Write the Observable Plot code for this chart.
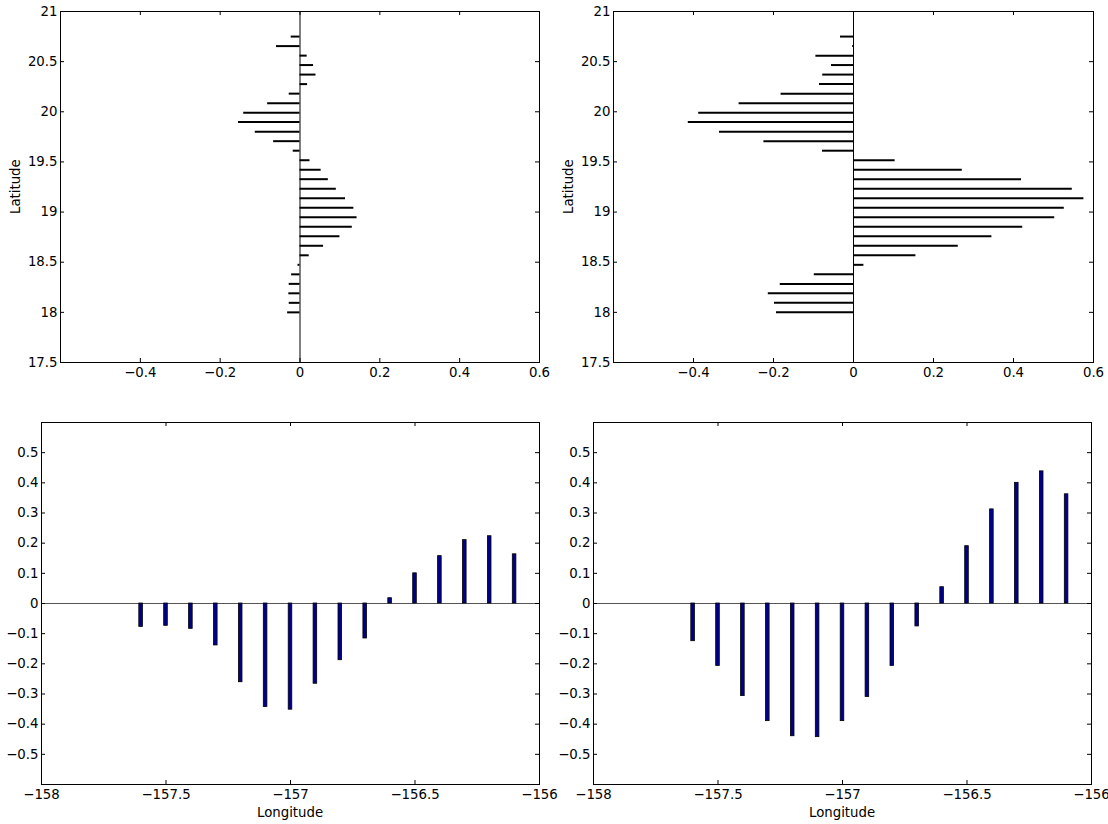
<!DOCTYPE html>
<html>
<head>
<meta charset="utf-8">
<script src="https://cdn.jsdelivr.net/npm/d3@7"></script>
<script src="https://cdn.jsdelivr.net/npm/@observablehq/plot@0.6"></script>
<style>
  html, body { margin: 0; padding: 0; background: #fff; }
  #wrap { position: relative; width: 1108px; height: 824px; font-family: "DejaVu Sans", sans-serif; font-size: 13.3px; color: #000; }
  #wrap svg { position: absolute; overflow: visible; }
  .lab { position: absolute; white-space: nowrap; font-size: 13.3px; line-height: 1; }
</style>
</head>
<body>
<div id="wrap"></div>
<script>
// ---- data ----
const latitudes = [18.0, 18.095, 18.19, 18.284, 18.379, 18.474, 18.569, 18.664, 18.759, 18.853,
  18.948, 19.043, 19.138, 19.233, 19.328, 19.422, 19.517, 19.612, 19.707, 19.802,
  19.897, 19.991, 20.086, 20.181, 20.276, 20.371, 20.466, 20.56, 20.655, 20.75];
const latValuesLeft = [-0.031, -0.027, -0.028, -0.027, -0.021, -0.005, 0.023, 0.059, 0.100, 0.131,
  0.143, 0.135, 0.114, 0.091, 0.071, 0.053, 0.025, -0.017, -0.066, -0.112,
  -0.154, -0.141, -0.081, -0.027, 0.019, 0.040, 0.034, 0.018, -0.059, -0.022];
const latValuesRight = [-0.1925, -0.1975, -0.213, -0.183, -0.098, 0.026, 0.156, 0.262, 0.346, 0.423,
  0.503, 0.527, 0.576, 0.547, 0.420, 0.272, 0.104, -0.0775, -0.224, -0.335,
  -0.413, -0.387, -0.286, -0.181, -0.085, -0.077, -0.055, -0.094, -0.002, -0.0325];

const longitudes = [-157.6, -157.5, -157.4, -157.3, -157.2, -157.1, -157.0, -156.9,
  -156.8, -156.7, -156.6, -156.5, -156.4, -156.3, -156.2, -156.1];
const lonValuesLeft = [-0.0775, -0.074, -0.084, -0.139, -0.261, -0.343, -0.352, -0.266,
  -0.188, -0.116, 0.0175, 0.100, 0.157, 0.210, 0.223, 0.163];
const lonValuesRight = [-0.125, -0.207, -0.307, -0.390, -0.440, -0.443, -0.390, -0.310,
  -0.207, -0.076, 0.054, 0.190, 0.312, 0.400, 0.438, 0.362];

const topXTicks = [-0.4, -0.2, 0, 0.2, 0.4, 0.6];
const topYTicks = [17.5, 18, 18.5, 19, 19.5, 20, 20.5, 21];
const botXTicks = [-158, -157.5, -157, -156.5, -156];
const botYTicks = [-0.5, -0.4, -0.3, -0.2, -0.1, 0, 0.1, 0.2, 0.3, 0.4, 0.5];

const yLabel = "Latitude";
const xLabel = "Longitude";

// ---- helpers ----
const fmt = d => {
  const a = String(+Math.abs(d).toFixed(3));
  return (d < 0 ? "\u2212" : "") + a;
};
const TICK = 4;
const FS = 13.3;

function panel({x, y, width, height, mL, mR, mT, mB, xDomain, yDomain, xTicks, yTicks, marks}) {
  const pw = width - mL - mR, ph = height - mT - mB;
  const svg = Plot.plot({
    width, height,
    marginLeft: mL, marginRight: mR, marginTop: mT, marginBottom: mB,
    x: {domain: xDomain, axis: null},
    y: {domain: yDomain, axis: null},
    style: {fontFamily: "DejaVu Sans, sans-serif", fontSize: FS + "px", color: "#000", background: "transparent", overflow: "visible"},
    marks: [
      ...marks,
      Plot.frame({stroke: "#000", strokeWidth: 1}),
      // inward ticks on all four sides
      Plot.tickX(xTicks, {x: d => d, insetTop: ph - TICK, stroke: "#000", strokeWidth: 1}),
      Plot.tickX(xTicks, {x: d => d, insetBottom: ph - TICK, stroke: "#000", strokeWidth: 1}),
      Plot.tickY(yTicks, {y: d => d, insetRight: pw - TICK, stroke: "#000", strokeWidth: 1}),
      Plot.tickY(yTicks, {y: d => d, insetLeft: pw - TICK, stroke: "#000", strokeWidth: 1}),
      Plot.axisX(xTicks, {anchor: "bottom", tickSize: 0, tickPadding: 5, tickFormat: fmt, label: null, fill: "#000", fontSize: FS}),
      Plot.axisY(yTicks, {anchor: "left", tickSize: 0, tickPadding: 3, tickFormat: fmt, label: null, fill: "#000", fontSize: FS})
    ]
  });
  svg.style.left = x + "px";
  svg.style.top = y + "px";
  return svg;
}

const wrap = document.getElementById("wrap");

function latPanel(x, mL, mR, values) {
  const rows = latitudes.map((lat, i) => ({lat, v: values[i]}));
  return panel({
    x, y: 0, width: 554, height: 400, mL, mR, mT: 11, mB: 38,
    xDomain: [-0.6, 0.6], yDomain: [17.5, 21], xTicks: topXTicks, yTicks: topYTicks,
    marks: [
      Plot.ruleX([0], {stroke: "#000", strokeWidth: 1}),
      Plot.ruleY(rows, {y: "lat", x1: 0, x2: "v", stroke: "#000", strokeWidth: 2})
    ]
  });
}

function lonPanel(x, mL, mR, values) {
  const rows = longitudes.map((lon, i) => ({lon, v: values[i]}));
  const halfW = 0.0072;
  return panel({
    x, y: 400, width: 554, height: 424, mL, mR, mT: 22, mB: 40,
    xDomain: [-158, -156], yDomain: [-0.6, 0.6], xTicks: botXTicks, yTicks: botYTicks,
    marks: [
      Plot.ruleY([0], {stroke: "#555", strokeWidth: 1}),
      Plot.rect(rows, {x1: d => d.lon - halfW, x2: d => d.lon + halfW, y1: 0, y2: "v", fill: "#00008c", stroke: "#000", strokeWidth: 0.8})
    ]
  });
}

wrap.appendChild(latPanel(0, 60, 15, latValuesLeft));
wrap.appendChild(latPanel(554, 59, 15, latValuesRight));
wrap.appendChild(lonPanel(0, 41, 15, lonValuesLeft));
wrap.appendChild(lonPanel(554, 39, 17, lonValuesRight));

// axis titles
function addLabel(text, cx, cy, rotate) {
  const el = document.createElement("div");
  el.className = "lab";
  el.textContent = text;
  wrap.appendChild(el);
  const w = el.offsetWidth, h = el.offsetHeight;
  el.style.left = (cx - w / 2) + "px";
  el.style.top = (cy - h / 2) + "px";
  if (rotate) el.style.transform = "rotate(-90deg)";
}
addLabel(yLabel, 15.7, 186.5, true);
addLabel(yLabel, 568.7, 186.5, true);
addLabel(xLabel, 290, 812, false);
addLabel(xLabel, 842, 812, false);
</script>
</body>
</html>
